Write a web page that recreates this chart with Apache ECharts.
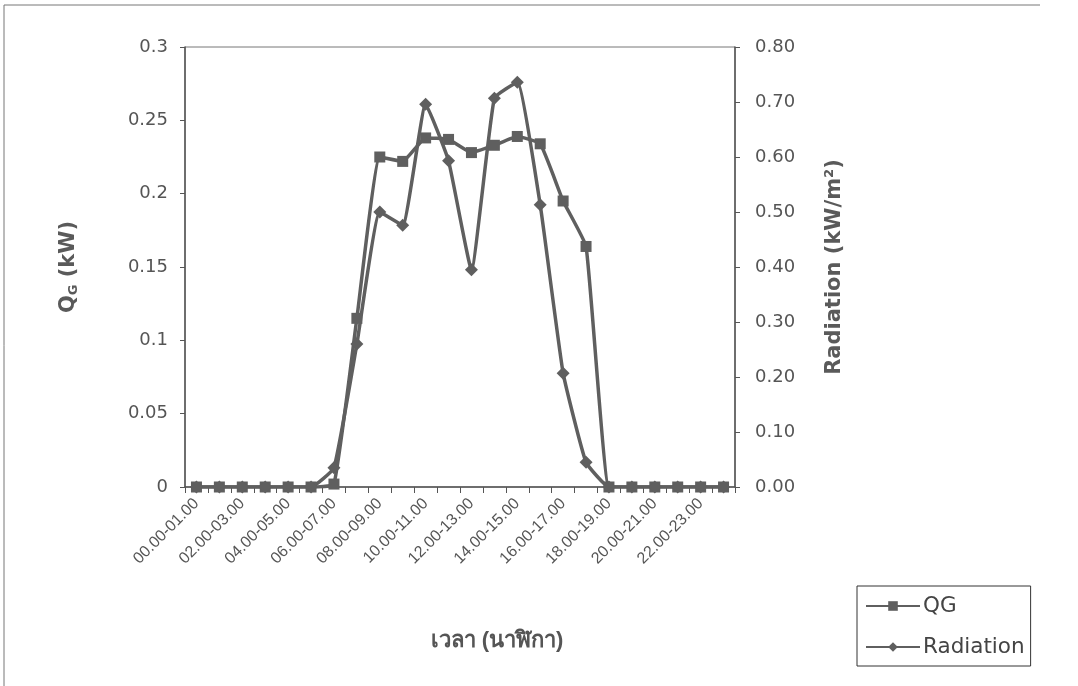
<!DOCTYPE html>
<html lang="th">

<head>
    <meta charset="UTF-8">
    <title>QG / Radiation</title>
    <style>
        * {
            margin: 0;
            padding: 0;
            box-sizing: border-box;
        }

        html,
        body {
            width: 1078px;
            height: 686px;
            background: #fff;
        }

        .box {
            width: 1078px;
            height: 686px;
        }
    </style>
</head>

<body>
    <div class="box"></div>
</body>
<script src="https://cdn.jsdelivr.net/npm/echarts@6/dist/echarts.min.js"></script>
<script>
    // ช่วงเวลา 24 ชั่วโมง
    const hours = ['00.00-01.00', '01.00-02.00', '02.00-03.00', '03.00-04.00', '04.00-05.00', '05.00-06.00',
        '06.00-07.00', '07.00-08.00', '08.00-09.00', '09.00-10.00', '10.00-11.00', '11.00-12.00',
        '12.00-13.00', '13.00-14.00', '14.00-15.00', '15.00-16.00', '16.00-17.00', '17.00-18.00',
        '18.00-19.00', '19.00-20.00', '20.00-21.00', '21.00-22.00', '22.00-23.00', '23.00-24.00'];

    // QG (kW) - แกนซ้าย
    const qg = [0, 0, 0, 0, 0, 0, 0.002, 0.115, 0.225, 0.222, 0.238, 0.237,
        0.228, 0.233, 0.239, 0.234, 0.195, 0.164, 0, 0, 0, 0, 0, 0];

    // Radiation (kW/m2) - แกนขวา
    const radiation = [0, 0, 0, 0, 0, 0, 0.035, 0.26, 0.50, 0.476, 0.696, 0.593,
        0.395, 0.707, 0.736, 0.513, 0.207, 0.045, 0, 0, 0, 0, 0, 0];

    const leftTicks = [0, 0.05, 0.1, 0.15, 0.2, 0.25, 0.3];
    const rightTicks = [0, 0.1, 0.2, 0.3, 0.4, 0.5, 0.6, 0.7, 0.8];

    const font = '"Liberation Sans", Arial, sans-serif';
    const wide = '"DejaVu Sans", "Liberation Sans", sans-serif';
    const grey = '#5a5a5a';

    let chart = echarts.init(document.querySelector('.box'))

    const option = {
        backgroundColor: '#fff',
        animation: false,
        textStyle: { fontFamily: font },
        graphic: [{
            type: 'polyline',
            shape: { points: [[4, 686], [4, 5], [1040, 5]] },
            style: { stroke: '#777', lineWidth: 1, fill: null }
        }],
        grid: {
            left: 185,
            right: 343,
            top: 47,
            bottom: 199,
            show: true,
            borderColor: '#777',
            borderWidth: 1
        },
        legend: {
            orient: 'vertical',
            left: 857,
            top: 586,
            padding: [9, 6, 8, 8],
            itemGap: 19,
            itemWidth: 54,
            itemHeight: 12,
            borderColor: '#333',
            borderWidth: 1,
            textStyle: { fontSize: 21.5, color: '#444', fontFamily: wide, padding: [0, 0, 0, -2] },
            data: ['QG', 'Radiation']
        },
        xAxis: {
            type: 'category',
            data: hours,
            boundaryGap: true,
            name: 'เวลา (นาฬิกา)',
            nameLocation: 'middle',
            nameGap: 143,
            nameTextStyle: { fontSize: 22, fontWeight: 'bold', color: '#555', padding: [0, 0, 0, 74] },
            axisLine: { lineStyle: { color: '#555', width: 1.5 } },
            axisTick: { show: true, interval: 0, length: 6, lineStyle: { color: '#555' } },
            axisLabel: {
                interval: 1,
                rotate: 45,
                fontSize: 16,
                color: '#555',
                margin: 14
            }
        },
        yAxis: [{
            type: 'value',
            min: 0,
            max: 0.3,
            interval: 0.05,
            position: 'left',
            name: '{q|Q}{s|G}{q| (kW)}',
            nameLocation: 'middle',
            nameRotate: 90,
            nameGap: 105,
            nameTextStyle: {
                rich: {
                    q: { fontSize: 21, fontWeight: 'bold', color: grey, fontFamily: wide },
                    s: { fontSize: 13, fontWeight: 'bold', color: grey, fontFamily: wide, padding: [9, 0, 0, 0] }
                }
            },
            splitLine: { show: false },
            axisLine: { show: true, lineStyle: { color: '#555', width: 1.5 } },
            axisTick: { show: true, length: 5, lineStyle: { color: '#555' } },
            axisLabel: {
                fontSize: 18,
                fontFamily: wide,
                color: '#555',
                margin: 17,
                formatter: function (v) {
                    return leftTicks.indexOf(Math.round(v * 100) / 100) >= 0 ? String(Math.round(v * 100) / 100) : '';
                }
            }
        }, {
            type: 'value',
            min: 0,
            max: 0.8,
            interval: 0.1,
            position: 'right',
            name: 'Radiation (kW/m²)',
            nameLocation: 'middle',
            nameRotate: 90,
            nameGap: 89,
            nameTextStyle: { fontSize: 21, fontWeight: 'bold', color: grey, fontFamily: wide },
            splitLine: { show: false },
            axisLine: { show: true, lineStyle: { color: '#555', width: 1.5 } },
            axisTick: { show: true, length: 5, lineStyle: { color: '#555' } },
            axisLabel: {
                fontSize: 18,
                fontFamily: wide,
                color: '#555',
                margin: 20,
                formatter: function (v) {
                    return rightTicks.indexOf(Math.round(v * 10) / 10) >= 0 ? v.toFixed(2) : '';
                }
            }
        }],
        series: [{
            name: 'QG',
            type: 'line',
            yAxisIndex: 0,
            data: qg,
            symbol: 'rect',
            symbolSize: 11,
            smooth: 0.12,
            color: '#5f5f5f',
            lineStyle: { width: 3.5, color: '#5f5f5f' },
            itemStyle: { color: '#5f5f5f' }
        }, {
            name: 'Radiation',
            type: 'line',
            yAxisIndex: 1,
            data: radiation,
            symbol: 'diamond',
            symbolSize: 13,
            smooth: 0.12,
            color: '#5f5f5f',
            lineStyle: { width: 3.5, color: '#5f5f5f' },
            itemStyle: { color: '#5f5f5f' }
        }]
    };
    chart.setOption(option)
</script>

</html>
